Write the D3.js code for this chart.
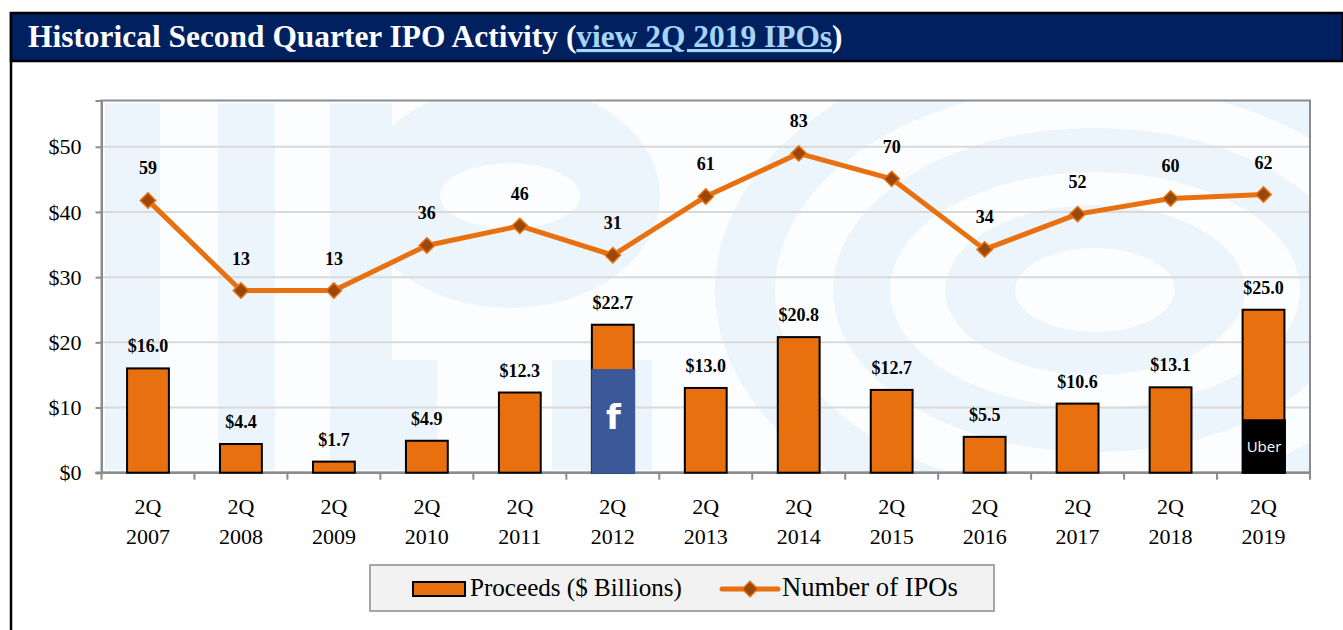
<!DOCTYPE html>
<html>
<head>
<meta charset="utf-8">
<script src="https://cdn.jsdelivr.net/npm/d3@7"></script>
<style>
  body { margin: 0; background: #ffffff; }
  svg { display: block; }
</style>
</head>
<body>
<script>
// Historical 2Q IPO activity - combo bar + line chart

var years = ["2007", "2008", "2009", "2010", "2011", "2012", "2013", "2014", "2015", "2016", "2017", "2018", "2019"];
var quarterLabel = "2Q";
var proceeds = [16.0, 4.4, 1.7, 4.9, 12.3, 22.7, 13.0, 20.8, 12.7, 5.5, 10.6, 13.1, 25.0];
var ipoCounts = [59, 13, 13, 36, 46, 31, 61, 83, 70, 34, 52, 60, 62];
var yTicks = [0, 10, 20, 30, 40, 50];
var logoYears = ["2012", "2019"];
var logoNames = ["f", "Uber"];
var logoValues = [15.9, 8.2];

var svgWidth = 1343;
var svgHeight = 630;
var orange = "#e8700e";
var serif = "'Liberation Serif', 'DejaVu Serif', serif";

var svg = d3.select("body")
  .append("svg")
  .attr("width", svgWidth)
  .attr("height", svgHeight);

// page frame + title bar
svg.append("line")
  .attr("x1", 11).attr("x2", 11)
  .attr("y1", 12).attr("y2", svgHeight)
  .attr("stroke", "#000").attr("stroke-width", 2.5);

svg.append("rect")
  .attr("x", 11).attr("y", 13)
  .attr("width", svgWidth - 11).attr("height", 48)
  .attr("fill", "#002060")
  .attr("stroke", "#000").attr("stroke-width", 2.5);

var title = svg.append("text")
  .attr("x", 28).attr("y", 47)
  .attr("font-family", serif)
  .attr("font-weight", "bold")
  .attr("font-size", 26)
  .attr("fill", "#ffffff");
title.append("tspan").text("Historical Second Quarter IPO Activity (");
title.append("tspan")
  .attr("fill", "#a6d6f7")
  .attr("text-decoration", "underline")
  .text("view 2Q 2019 IPOs");
title.append("tspan").text(")");

function fitText(sel, target) {
  var size = +sel.attr("font-size");
  var w = sel.node().getComputedTextLength();
  sel.attr("font-size", size * target / w);
}
fitText(title, 815);

// plot area
var plot = { left: 101.5, right: 1310, top: 100.5, bottom: 472.7 };

var xScale = d3.scaleBand()
  .domain(years)
  .range([plot.left, plot.right])
  .paddingInner(0.55)
  .paddingOuter(0.275);
var step = xScale.step();
function cx(yr) { return xScale(yr) + xScale.bandwidth() / 2; }

var yScale = d3.scaleLinear()
  .domain([0, 57.1])
  .range([plot.bottom, plot.top]);

// hidden secondary axis for number of IPOs
var y2Scale = d3.scaleLinear()
  .domain([-80, 110])
  .range([plot.bottom, plot.top]);

svg.append("defs").append("clipPath")
  .attr("id", "plotClip")
  .append("rect")
  .attr("x", plot.left).attr("y", plot.top)
  .attr("width", plot.right - plot.left)
  .attr("height", plot.bottom - plot.top);

var plotBg = "#fbfdfe";
svg.append("rect")
  .attr("x", plot.left).attr("y", plot.top)
  .attr("width", plot.right - plot.left)
  .attr("height", plot.bottom - plot.top)
  .attr("fill", plotBg);

// faint "IPO" watermark behind the plot
var pale = "#ecf5fb";
var wm = svg.append("g").attr("clip-path", "url(#plotClip)");
[[105, 160], [218, 275], [330, 392]].forEach(function (r) {
  wm.append("rect")
    .attr("x", r[0]).attr("y", plot.top + 3)
    .attr("width", r[1] - r[0]).attr("height", plot.bottom - plot.top - 6)
    .attr("fill", pale);
});
[[150, 112, pale], [70, 33, plotBg]].forEach(function (e) {
  wm.append("ellipse")
    .attr("cx", 510).attr("cy", 196)
    .attr("rx", e[0]).attr("ry", e[1])
    .attr("fill", e[2]);
});
wm.append("rect")
  .attr("x", 392).attr("y", 360).attr("width", 45).attr("height", 110).attr("fill", pale);
wm.append("rect")
  .attr("x", 552).attr("y", 360).attr("width", 100).attr("height", 110).attr("fill", pale);
[[420, 300, plotBg], [380, 255, pale], [320, 205, plotBg], [262, 162, pale],
 [205, 118, plotBg], [150, 85, pale], [80, 42, plotBg]].forEach(function (e) {
  wm.append("ellipse")
    .attr("cx", 1095).attr("cy", 290)
    .attr("rx", e[0]).attr("ry", e[1])
    .attr("fill", e[2]);
});

// gridlines
svg.append("g")
  .selectAll("line")
  .data(yTicks.slice(1))
  .enter()
  .append("line")
  .attr("x1", plot.left).attr("x2", plot.right)
  .attr("y1", d => yScale(d)).attr("y2", d => yScale(d))
  .attr("stroke", "#d9d9d9")
  .attr("stroke-width", 2);

// plot frame
svg.append("rect")
  .attr("x", plot.left).attr("y", plot.top)
  .attr("width", plot.right - plot.left)
  .attr("height", plot.bottom - plot.top)
  .attr("fill", "none")
  .attr("stroke", "#8c8c8c")
  .attr("stroke-width", 2);

// y axis
var yAxis = d3.axisLeft(yScale)
  .tickValues(yTicks)
  .tickSize(6)
  .tickPadding(14)
  .tickFormat(d => "$" + d);
var yAxisG = svg.append("g")
  .attr("transform", `translate(${plot.left}, 0)`)
  .call(yAxis);
yAxisG.select(".domain").attr("stroke", "#8c8c8c").attr("stroke-width", 2);
yAxisG.selectAll(".tick line").attr("stroke", "#8c8c8c").attr("stroke-width", 2);
yAxisG.selectAll(".tick text")
  .attr("font-family", serif)
  .attr("font-size", 22)
  .attr("fill", "#000");

// x axis: ticks between categories
var boundaries = years.map(yr => xScale(yr) - (step - xScale.bandwidth()) / 2);
boundaries.push(plot.right);
svg.append("g")
  .selectAll("line")
  .data(boundaries)
  .enter()
  .append("line")
  .attr("x1", d => d).attr("x2", d => d)
  .attr("y1", plot.bottom).attr("y2", plot.bottom + 7)
  .attr("stroke", "#8c8c8c")
  .attr("stroke-width", 2);
svg.append("line")
  .attr("x1", plot.left - 6).attr("x2", plot.right)
  .attr("y1", plot.bottom).attr("y2", plot.bottom)
  .attr("stroke", "#8c8c8c").attr("stroke-width", 2.5);

var xLabels = svg.append("g")
  .selectAll("text")
  .data(years)
  .enter()
  .append("text")
  .attr("text-anchor", "middle")
  .attr("font-family", serif)
  .attr("font-size", 22)
  .attr("fill", "#000");
xLabels.append("tspan").attr("x", d => cx(d)).attr("y", 514).text(quarterLabel);
xLabels.append("tspan").attr("x", d => cx(d)).attr("y", 544).text(d => d);

// bars
svg.append("g")
  .selectAll("rect")
  .data(proceeds)
  .enter()
  .append("rect")
  .attr("x", (d, i) => xScale(years[i]))
  .attr("y", d => yScale(d))
  .attr("width", xScale.bandwidth())
  .attr("height", d => yScale(0) - yScale(d))
  .attr("fill", orange)
  .attr("stroke", "#000")
  .attr("stroke-width", 2);

// facebook / uber logos over the bars
logoYears.forEach(function (yr, i) {
  var g = svg.append("g");
  var top = yScale(logoValues[i]);
  g.append("rect")
    .attr("x", xScale(yr) - 0.5)
    .attr("y", top)
    .attr("width", xScale.bandwidth() + 2)
    .attr("height", yScale(0) - top + 1)
    .attr("fill", i === 0 ? "#3b5998" : "#000");
  g.append("text")
    .attr("x", cx(yr) + 0.5)
    .attr("y", i === 0 ? top + 60 : top + 33)
    .attr("text-anchor", "middle")
    .attr("font-family", i === 0 ? "'DejaVu Sans', sans-serif" : "'Open Sans', 'DejaVu Sans', sans-serif")
    .attr("font-weight", i === 0 ? "bold" : "normal")
    .attr("font-size", i === 0 ? 34 : 15)
    .attr("fill", "#fff")
    .text(logoNames[i]);
});

// bar value labels
svg.append("g")
  .selectAll("text")
  .data(proceeds)
  .enter()
  .append("text")
  .attr("x", (d, i) => cx(years[i]))
  .attr("y", d => yScale(d) - 16)
  .attr("text-anchor", "middle")
  .attr("font-family", serif)
  .attr("font-weight", "bold")
  .attr("font-size", 18)
  .attr("fill", "#000")
  .text(d => "$" + d.toFixed(1));

// number of IPOs line
var line = d3.line()
  .x((d, i) => cx(years[i]))
  .y(d => y2Scale(d));

svg.append("path")
  .datum(ipoCounts)
  .attr("d", line)
  .attr("fill", "none")
  .attr("stroke", orange)
  .attr("stroke-width", 5)
  .attr("stroke-linejoin", "round");

var diamond = d3.symbol().type(d3.symbolDiamond2).size(150);
svg.append("g")
  .selectAll("path")
  .data(ipoCounts)
  .enter()
  .append("path")
  .attr("d", diamond)
  .attr("transform", (d, i) => `translate(${cx(years[i])}, ${y2Scale(d)})`)
  .attr("fill", "#9a4708")
  .attr("stroke", orange)
  .attr("stroke-width", 1.5);

svg.append("g")
  .selectAll("text")
  .data(ipoCounts)
  .enter()
  .append("text")
  .attr("x", (d, i) => cx(years[i]))
  .attr("y", d => y2Scale(d) - 26)
  .attr("text-anchor", "middle")
  .attr("font-family", serif)
  .attr("font-weight", "bold")
  .attr("font-size", 18)
  .attr("fill", "#000")
  .text(d => d);

// legend
var legend = svg.append("g");
legend.append("rect")
  .attr("x", 370).attr("y", 565)
  .attr("width", 624).attr("height", 46)
  .attr("fill", "#f2f2f2")
  .attr("stroke", "#a6a6a6")
  .attr("stroke-width", 2);
legend.append("rect")
  .attr("x", 413).attr("y", 582)
  .attr("width", 52).attr("height", 14)
  .attr("fill", orange)
  .attr("stroke", "#000")
  .attr("stroke-width", 2);
var lt1 = legend.append("text")
  .attr("x", 470).attr("y", 596)
  .attr("font-family", serif)
  .attr("font-size", 22)
  .attr("fill", "#000")
  .text("Proceeds ($ Billions)");
fitText(lt1, 212);
legend.append("line")
  .attr("x1", 722).attr("x2", 778)
  .attr("y1", 589).attr("y2", 589)
  .attr("stroke", orange)
  .attr("stroke-width", 5)
  .attr("stroke-linecap", "round");
legend.append("path")
  .attr("d", diamond)
  .attr("transform", "translate(750, 589)")
  .attr("fill", "#9a4708")
  .attr("stroke", orange)
  .attr("stroke-width", 1.5);
var lt2 = legend.append("text")
  .attr("x", 782).attr("y", 596)
  .attr("font-family", serif)
  .attr("font-size", 22)
  .attr("fill", "#000")
  .text("Number of IPOs");
fitText(lt2, 176);
</script>
</body>
</html>
